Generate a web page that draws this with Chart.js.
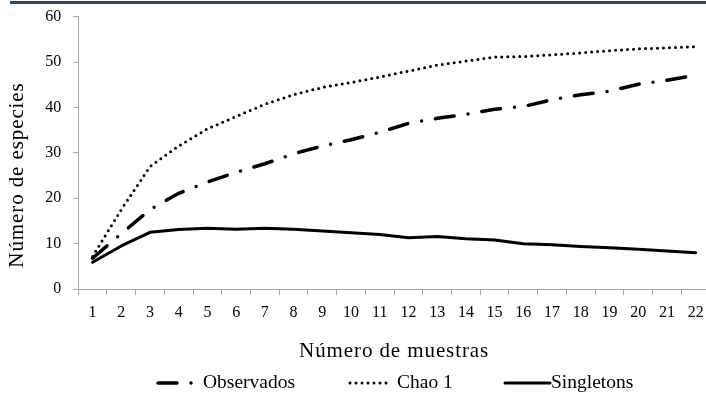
<!DOCTYPE html>
<html>
<head>
<meta charset="utf-8">
<script src="https://cdn.jsdelivr.net/npm/chart.js@4"></script>
<style>
  html, body { margin: 0; padding: 0; background: #fff; overflow: hidden; width: 706px; height: 400px; }
  #wrap { position: relative; width: 712px; height: 405px; top: -5px; }
</style>
</head>
<body>
<div id="wrap"><canvas id="c" width="712" height="405"></canvas></div>
<script>
// Species accumulation per number of samples
const muestras = ['1','2','3','4','5','6','7','8','9','10','11','12','13','14','15','16','17','18','19','20','21','22'];
const observados = [6.8, 12.2, 17.5, 21.1, 23.6, 25.7, 27.6, 29.8, 31.5, 32.9, 34.5, 36.5, 37.6, 38.5, 39.6, 40.2, 41.7, 42.8, 43.6, 45.1, 46.0, 47.1];
const chao1 = [7.2, 17.5, 27.0, 31.5, 35.3, 38.0, 40.7, 42.8, 44.4, 45.5, 46.7, 48.0, 49.3, 50.2, 51.1, 51.2, 51.6, 52.0, 52.5, 52.9, 53.1, 53.4];
const singletons = [5.9, 9.5, 12.5, 13.1, 13.4, 13.2, 13.4, 13.2, 12.8, 12.4, 12.0, 11.3, 11.6, 11.1, 10.8, 10.0, 9.75, 9.4, 9.1, 8.8, 8.4, 8.0];
const yMin = 0, yMax = 60, yStep = 10;
const xTitle = 'Número de muestras';
const yTitle = 'Número de especies';

const serif = '"Liberation Serif", "Times New Roman", serif';
const axisGray = '#a6a6a6';

// Thin navy rule across the top of the figure
const topRule = {
  id: 'topRule',
  beforeDraw(chart) {
    const ctx = chart.ctx;
    ctx.save();
    ctx.fillStyle = '#1f4e79';
    ctx.fillRect(10, 6, 702, 3);
    ctx.restore();
  }
};

// Axis titles, set slightly letter-spaced
const axisTitles = {
  id: 'axisTitles',
  afterDraw(chart) {
    const ctx = chart.ctx;
    const area = chart.chartArea;
    ctx.save();
    ctx.fillStyle = '#000';
    ctx.font = '21px ' + serif;
    if ('letterSpacing' in ctx) ctx.letterSpacing = '0.9px';
    ctx.textAlign = 'center';
    ctx.textBaseline = 'middle';
    ctx.fillText(xTitle, (area.left + area.right) / 2, 356);
    ctx.translate(17.5, 180);
    ctx.rotate(-Math.PI / 2);
    ctx.fillText(yTitle, 0, 0);
    ctx.restore();
  }
};

// Legend row drawn with each dataset's own line style
const legendSlots = [
  { x0: 158, x1: 192.5, tx: 203 },
  { x0: 350, x1: 389.5, tx: 397 },
  { x0: 505, x1: 550, tx: 551 }
];
const lineLegend = {
  id: 'lineLegend',
  afterDraw(chart) {
    const ctx = chart.ctx;
    const y = 388;
    chart.data.datasets.forEach((ds, i) => {
      const s = legendSlots[i];
      ctx.save();
      ctx.strokeStyle = ds.borderColor;
      ctx.lineWidth = ds.borderWidth;
      ctx.lineCap = ds.borderCapStyle || 'butt';
      ctx.setLineDash(ds.borderDash || []);
      ctx.beginPath();
      ctx.moveTo(s.x0, y);
      ctx.lineTo(s.x1, y);
      ctx.stroke();
      ctx.setLineDash([]);
      ctx.fillStyle = '#000';
      ctx.font = '19.5px ' + serif;
      ctx.textAlign = 'left';
      ctx.textBaseline = 'middle';
      ctx.fillText(ds.label, s.tx, y);
      ctx.restore();
    });
  }
};

Chart.defaults.color = '#000';
Chart.defaults.font.family = serif;

new Chart(document.getElementById('c'), {
  type: 'line',
  data: {
    labels: muestras,
    datasets: [
      {
        label: 'Observados',
        data: observados,
        borderColor: '#000',
        borderWidth: 3.5,
        borderCapStyle: 'round',
        borderDash: [19, 14, 0, 14],
        pointRadius: 0,
        tension: 0,
        fill: false
      },
      {
        label: 'Chao 1',
        data: chao1,
        borderColor: '#000',
        borderWidth: 3,
        borderCapStyle: 'round',
        borderDash: [0, 6],
        pointRadius: 0,
        tension: 0,
        fill: false
      },
      {
        label: 'Singletons',
        data: singletons,
        borderColor: '#000',
        borderWidth: 3,
        borderCapStyle: 'round',
        borderJoinStyle: 'round',
        pointRadius: 0,
        tension: 0,
        fill: false
      }
    ]
  },
  options: {
    responsive: false,
    devicePixelRatio: 1,
    animation: false,
    layout: { padding: { top: 10, right: 2, bottom: 69.7, left: 33.2 } },
    plugins: {
      legend: { display: false },
      tooltip: { enabled: false }
    },
    scales: {
      x: {
        type: 'category',
        offset: true,
        grid: { offset: true, drawOnChartArea: false, drawTicks: true, tickLength: 6, color: axisGray },
        border: { display: true, color: axisGray, width: 1 },
        ticks: { font: { size: 16, family: serif }, padding: 8, maxRotation: 0, autoSkip: false, color: '#000' }
      },
      y: {
        min: yMin,
        max: yMax,
        ticks: { stepSize: yStep, font: { size: 16, family: serif }, padding: 12, color: '#000' },
        grid: { drawOnChartArea: false, drawTicks: true, tickLength: 5, color: axisGray },
        border: { display: true, color: axisGray, width: 1 }
      }
    }
  },
  plugins: [topRule, axisTitles, lineLegend]
});
</script>
</body>
</html>
